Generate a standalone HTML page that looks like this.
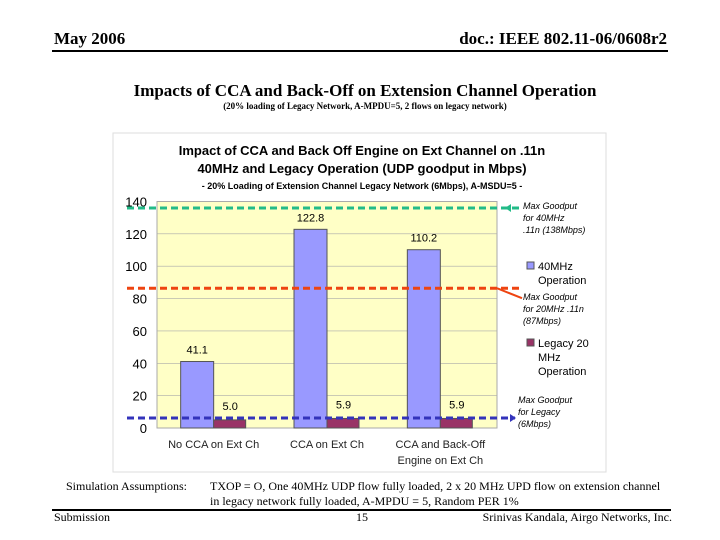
<!DOCTYPE html>
<html><head><meta charset="utf-8"><style>
body{margin:0;width:720px;height:540px;background:#fff;position:relative;overflow:hidden;font-family:"Liberation Serif",serif}
.a{position:absolute;white-space:nowrap}
</style></head><body>
<div class="a" style="left:54px;top:29px;font-size:17px;font-weight:bold">May 2006</div>
<div class="a" style="right:53px;top:29px;font-size:17px;font-weight:bold">doc.: IEEE 802.11-06/0608r2</div>
<div class="a" style="left:52px;top:50px;width:616px;height:2px;background:#000"></div>
<div class="a" style="left:0;width:730px;text-align:center;top:81px;font-size:17px;font-weight:bold">Impacts of CCA and Back-Off on Extension Channel Operation</div>
<div class="a" style="left:0;width:730px;text-align:center;top:101px;font-size:9px;font-weight:bold">(20% loading of Legacy Network, A-MPDU=5, 2 flows on legacy network)</div>
<svg class="a" style="left:0;top:0" width="720" height="540" font-family="Liberation Sans, sans-serif">
<rect x="113" y="133" width="493" height="339" fill="#fff" stroke="#ddd"/>
<g id="g"></g>
</svg>
<div class="a" style="left:66px;top:479px;font-size:12px">Simulation Assumptions:</div>
<div class="a" style="left:210px;top:479px;font-size:12px;line-height:15px">TXOP = O, One 40MHz UDP flow fully loaded, 2 x 20 MHz UPD flow on extension channel<br>in legacy network fully loaded, A-MPDU = 5, Random PER 1%</div>
<div class="a" style="left:52px;top:509px;width:619px;height:2px;background:#000"></div>
<div class="a" style="left:54px;top:510px;font-size:12px">Submission</div>
<div class="a" style="left:356px;top:510px;font-size:12px">15</div>
<div class="a" style="right:48px;top:510px;font-size:12px">Srinivas Kandala, Airgo Networks, Inc.</div>
<script>
const categories=[["No CCA on Ext Ch"],["CCA on Ext Ch"],["CCA and Back-Off","Engine on Ext Ch"]];
const series40=[41.1,122.8,110.2];
const seriesLegacy=[5.0,5.9,5.9];
const yTicks=[0,20,40,60,80,100,120,140];
const refLines=[136,86.4,6.2];
const NS="http://www.w3.org/2000/svg";const g=document.getElementById('g');
const X0=157,X1=497,Y0=428,Y1=201.5;
const y=v=>Y0-(v/140)*(Y0-Y1);
const gw=(X1-X0)/categories.length;
function el(t,a,txt){const e=document.createElementNS(NS,t);for(const k in a)e.setAttribute(k,a[k]);if(txt!==undefined)e.textContent=txt;g.appendChild(e);return e;}
let e;
e=el('text',{x:362,y:155,'text-anchor':'middle','font-size':13,'font-weight':'bold'},'Impact of CCA and Back Off Engine on Ext Channel on .11n');

e=el('text',{x:362,y:173,'text-anchor':'middle','font-size':13,'font-weight':'bold'},'40MHz and Legacy Operation (UDP goodput in Mbps)');

e=el('text',{x:362,y:189,'text-anchor':'middle','font-size':9,'font-weight':'bold'},'- 20% Loading of Extension Channel Legacy Network (6Mbps), A-MSDU=5 -');

e=el('rect',{x:X0,y:Y1,width:X1-X0,height:Y0-Y1,fill:'#ffffc6',stroke:'#aaa'});

yTicks.forEach(t=>{
 if(t>0){e=el('line',{x1:X0,x2:X1,y1:y(t),y2:y(t),stroke:'#aaa','stroke-width':0.6});}
 e=el('text',{x:X0-10,y:y(t)+5,'text-anchor':'end','font-size':13},t);
 
});
categories.forEach((c,i)=>{
 const cx=X0+gw*(i+0.5);
 const bw=33;
 e=el('rect',{x:cx-bw,y:y(series40[i]),width:bw,height:Y0-y(series40[i]),fill:'#9999ff',stroke:'#555'});
 
 e=el('text',{x:cx-bw/2,y:y(series40[i])-8,'text-anchor':'middle','font-size':11},series40[i].toFixed(1));
 
 e=el('rect',{x:cx,y:y(seriesLegacy[i]),width:bw-1,height:Y0-y(seriesLegacy[i]),fill:'#993366',stroke:'#555'});
 
 e=el('text',{x:cx+bw/2,y:y(seriesLegacy[i])-10,'text-anchor':'middle','font-size':11},seriesLegacy[i].toFixed(1));
 
 c.forEach((l,j)=>{e=el('text',{x:cx,y:448+j*16,'text-anchor':'middle','font-size':11,fill:'#222'},l);
 });
});
const cols=['#22bb88','#ee4411','#3333bb'];
refLines.forEach((v,i)=>{
 e=el('line',{x1:127,x2:i==2?515:520,y1:y(v),y2:y(v),stroke:cols[i],'stroke-width':3,'stroke-dasharray':'7,4'});
 
});
e=el('path',{d:`M505 ${y(refLines[0])} l6 -4 v8 z`,fill:cols[0]});
e=el('line',{x1:497,y1:y(refLines[1]),x2:522,y2:y(refLines[1])+10,stroke:cols[1],'stroke-width':2});
e=el('path',{d:`M516 ${y(refLines[2])} l-6 -4 v8 z`,fill:cols[2]});
const notes=[[523,209,['Max Goodput','for 40MHz','.11n (138Mbps)']],[523,300,['Max Goodput','for 20MHz .11n','(87Mbps)']],[518,403,['Max Goodput','for Legacy','(6Mbps)']]];
notes.forEach(n=>n[2].forEach((l,j)=>{e=el('text',{x:n[0],y:n[1]+j*12,'font-size':9,'font-style':'italic'},l);
 }));
e=el('rect',{x:527,y:262,width:7,height:7,fill:'#9999ff',stroke:'#555'});
[['40MHz',270],['Operation',284]].forEach(t=>{e=el('text',{x:538,y:t[1],'font-size':11},t[0]);});
e=el('rect',{x:527,y:339,width:7,height:7,fill:'#993366',stroke:'#555'});
[['Legacy 20',347],['MHz',361],['Operation',375]].forEach(t=>{e=el('text',{x:538,y:t[1],'font-size':11},t[0]);});
</script>
</body></html>
